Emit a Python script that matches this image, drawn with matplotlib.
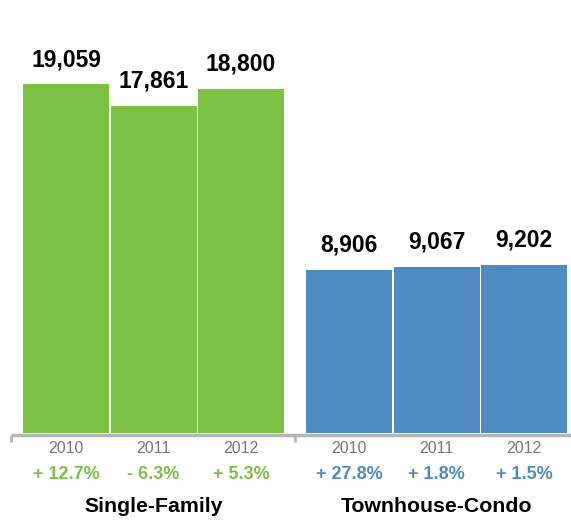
import matplotlib
matplotlib.use("Agg")
import matplotlib.pyplot as plt
import matplotlib.transforms as mtransforms

plt.rcParams['font.family'] = ['Liberation Sans', 'DejaVu Sans']

groups = ['Single-Family', 'Townhouse-Condo']
years = ['2010', '2011', '2012']
single_family = [19059, 17861, 18800]
townhouse_condo = [8906, 9067, 9202]
sf_change = ['+ 12.7%', '- 6.3%', '+ 5.3%']
tc_change = ['+ 27.8%', '+ 1.8%', '+ 1.5%']

green = '#7bc143'
blue = '#4e8bc1'
W, H = 571, 521

fig = plt.figure(figsize=(W / 100, H / 100), dpi=100)
ax = fig.add_axes([0, 0, 1, 1])
ax.set_xlim(0, W)
# 0 sits 88 px above the bottom, 0.01831 px per home sold
scale = 0.01831
ax.set_ylim(-88 / scale, (H - 88) / scale)
ax.axis('off')

bw = 86      # bar width
step = 87.5  # spacing between bar centres
starts = [23, 306]
series = [single_family, townhouse_condo]
changes = [sf_change, tc_change]
colors = [green, blue]

blend = mtransforms.blended_transform_factory(ax.transData, ax.transAxes)

for g in range(2):
    xs = [starts[g] + bw / 2 + i * step for i in range(3)]
    bars = ax.bar(xs, series[g], width=bw, color=colors[g], linewidth=0)
    for b, v in zip(bars, series[g]):
        ax.annotate(f'{v:,}', (b.get_x() + b.get_width() / 2, v),
                    xytext=(0, 18), textcoords='offset pixels',
                    ha='center', va='baseline', fontsize=16.5,
                    fontweight='bold', color='black')
    for x, yr, ch in zip(xs, years, changes[g]):
        ax.text(x, 1 - 453 / H, yr, transform=blend, ha='center',
                va='baseline', fontsize=11.5, color='#777777')
        ax.text(x, 1 - 479 / H, ch, transform=blend, ha='center',
                va='baseline', fontsize=13, fontweight='bold',
                color=colors[g])
    gx = (xs[0] + xs[-1]) / 2
    ax.text(gx, 1 - 512 / H, groups[g], transform=blend, ha='center',
            va='baseline', fontsize=15.3, fontweight='bold', color='black')

# baseline with small ticks at the group edges
ax.plot([11, W], [1 - 435 / H] * 2, transform=blend, color='#b5b5b5',
        lw=2.5, solid_capstyle='butt', clip_on=False)
for tx in [11, 295]:
    ax.plot([tx, tx], [1 - 435 / H, 1 - 442 / H], transform=blend,
            color='#b5b5b5', lw=2, solid_capstyle='butt')

fig.savefig('out.png', dpi=100)
